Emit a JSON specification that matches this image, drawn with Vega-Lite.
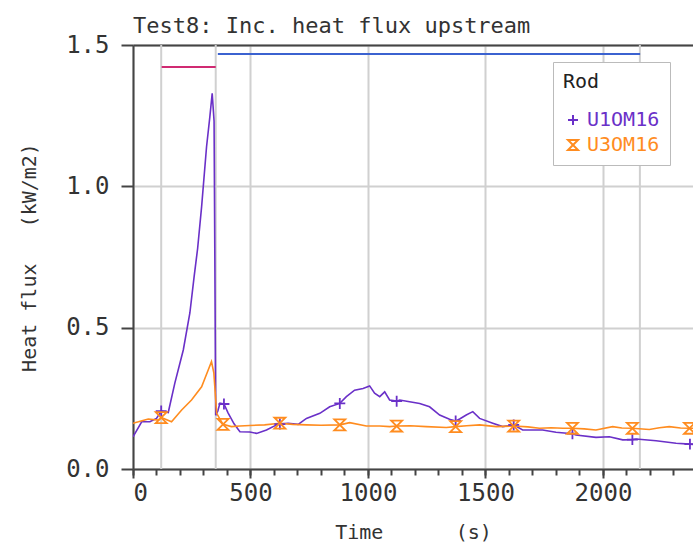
{
  "$schema": "https://vega.github.io/schema/vega-lite/v6.json",
  "width": 560,
  "height": 424,
  "autosize": "none",
  "padding": {"left": 133, "top": 45, "right": 0, "bottom": 76},
  "background": "white",
  "title": {"text": "Test8: Inc. heat flux upstream", "anchor": "start", "frame": "group", "baseline": "alphabetic", "font": "DejaVu Sans Mono", "fontSize": 22, "fontWeight": "normal", "color": "#333", "offset": 12, "dy": 34},
  "config": {
    "font": "DejaVu Sans Mono",
    "view": {"stroke": null},
    "axis": {"labelFont": "DejaVu Sans Mono", "titleFont": "DejaVu Sans Mono", "domainColor": "#444", "tickColor": "#444", "labelColor": "#333", "titleColor": "#333", "gridColor": "#d0d0d0", "gridWidth": 2, "domainWidth": 2, "tickWidth": 2, "titleFontWeight": "normal"},
    "legend": {"labelFont": "DejaVu Sans Mono", "titleFont": "DejaVu Sans Mono"}
  },
  "datasets": {
    "events": [{"t": 120}, {"t": 352}, {"t": 2157}],
    "phases": [
      {"phase": "A", "t0": 122, "t1": 352, "v": 1.422},
      {"phase": "B", "t0": 361, "t1": 2158, "v": 1.468}
    ],
    "series": [
      {"rod": "U1OM16", "t": 0, "v": 0.114, "mk": 0},
      {"rod": "U1OM16", "t": 37, "v": 0.167, "mk": 0},
      {"rod": "U1OM16", "t": 72, "v": 0.167, "mk": 0},
      {"rod": "U1OM16", "t": 100, "v": 0.179, "mk": 0},
      {"rod": "U1OM16", "t": 120, "v": 0.205, "mk": 1},
      {"rod": "U1OM16", "t": 150, "v": 0.2, "mk": 0},
      {"rod": "U1OM16", "t": 178, "v": 0.304, "mk": 0},
      {"rod": "U1OM16", "t": 214, "v": 0.421, "mk": 0},
      {"rod": "U1OM16", "t": 242, "v": 0.552, "mk": 0},
      {"rod": "U1OM16", "t": 260, "v": 0.68, "mk": 0},
      {"rod": "U1OM16", "t": 275, "v": 0.78, "mk": 0},
      {"rod": "U1OM16", "t": 292, "v": 0.928, "mk": 0},
      {"rod": "U1OM16", "t": 313, "v": 1.14, "mk": 0},
      {"rod": "U1OM16", "t": 327, "v": 1.246, "mk": 0},
      {"rod": "U1OM16", "t": 337, "v": 1.329, "mk": 0},
      {"rod": "U1OM16", "t": 345, "v": 1.23, "mk": 0},
      {"rod": "U1OM16", "t": 352, "v": 0.19, "mk": 0},
      {"rod": "U1OM16", "t": 361, "v": 0.205, "mk": 0},
      {"rod": "U1OM16", "t": 370, "v": 0.233, "mk": 0},
      {"rod": "U1OM16", "t": 387, "v": 0.23, "mk": 1},
      {"rod": "U1OM16", "t": 405, "v": 0.198, "mk": 0},
      {"rod": "U1OM16", "t": 430, "v": 0.16, "mk": 0},
      {"rod": "U1OM16", "t": 455, "v": 0.132, "mk": 0},
      {"rod": "U1OM16", "t": 497, "v": 0.131, "mk": 0},
      {"rod": "U1OM16", "t": 526, "v": 0.126, "mk": 0},
      {"rod": "U1OM16", "t": 568, "v": 0.138, "mk": 0},
      {"rod": "U1OM16", "t": 611, "v": 0.156, "mk": 0},
      {"rod": "U1OM16", "t": 625, "v": 0.159, "mk": 1},
      {"rod": "U1OM16", "t": 660, "v": 0.162, "mk": 0},
      {"rod": "U1OM16", "t": 703, "v": 0.158, "mk": 0},
      {"rod": "U1OM16", "t": 738, "v": 0.179, "mk": 0},
      {"rod": "U1OM16", "t": 795, "v": 0.197, "mk": 0},
      {"rod": "U1OM16", "t": 837, "v": 0.22, "mk": 0},
      {"rod": "U1OM16", "t": 880, "v": 0.232, "mk": 1},
      {"rod": "U1OM16", "t": 908, "v": 0.256, "mk": 0},
      {"rod": "U1OM16", "t": 943, "v": 0.279, "mk": 0},
      {"rod": "U1OM16", "t": 979, "v": 0.285, "mk": 0},
      {"rod": "U1OM16", "t": 1007, "v": 0.294, "mk": 0},
      {"rod": "U1OM16", "t": 1028, "v": 0.268, "mk": 0},
      {"rod": "U1OM16", "t": 1050, "v": 0.256, "mk": 0},
      {"rod": "U1OM16", "t": 1071, "v": 0.273, "mk": 0},
      {"rod": "U1OM16", "t": 1092, "v": 0.244, "mk": 0},
      {"rod": "U1OM16", "t": 1122, "v": 0.24, "mk": 1},
      {"rod": "U1OM16", "t": 1135, "v": 0.244, "mk": 0},
      {"rod": "U1OM16", "t": 1177, "v": 0.238, "mk": 0},
      {"rod": "U1OM16", "t": 1220, "v": 0.232, "mk": 0},
      {"rod": "U1OM16", "t": 1262, "v": 0.22, "mk": 0},
      {"rod": "U1OM16", "t": 1305, "v": 0.191, "mk": 0},
      {"rod": "U1OM16", "t": 1347, "v": 0.176, "mk": 0},
      {"rod": "U1OM16", "t": 1373, "v": 0.17, "mk": 1},
      {"rod": "U1OM16", "t": 1390, "v": 0.177, "mk": 0},
      {"rod": "U1OM16", "t": 1418, "v": 0.191, "mk": 0},
      {"rod": "U1OM16", "t": 1446, "v": 0.203, "mk": 0},
      {"rod": "U1OM16", "t": 1475, "v": 0.179, "mk": 0},
      {"rod": "U1OM16", "t": 1531, "v": 0.162, "mk": 0},
      {"rod": "U1OM16", "t": 1573, "v": 0.15, "mk": 0},
      {"rod": "U1OM16", "t": 1620, "v": 0.156, "mk": 1},
      {"rod": "U1OM16", "t": 1658, "v": 0.138, "mk": 0},
      {"rod": "U1OM16", "t": 1743, "v": 0.138, "mk": 0},
      {"rod": "U1OM16", "t": 1800, "v": 0.13, "mk": 0},
      {"rod": "U1OM16", "t": 1870, "v": 0.125, "mk": 1},
      {"rod": "U1OM16", "t": 1885, "v": 0.12, "mk": 0},
      {"rod": "U1OM16", "t": 1970, "v": 0.112, "mk": 0},
      {"rod": "U1OM16", "t": 2027, "v": 0.114, "mk": 0},
      {"rod": "U1OM16", "t": 2084, "v": 0.103, "mk": 0},
      {"rod": "U1OM16", "t": 2125, "v": 0.104, "mk": 1},
      {"rod": "U1OM16", "t": 2141, "v": 0.106, "mk": 0},
      {"rod": "U1OM16", "t": 2226, "v": 0.1, "mk": 0},
      {"rod": "U1OM16", "t": 2311, "v": 0.091, "mk": 0},
      {"rod": "U1OM16", "t": 2370, "v": 0.088, "mk": 1},
      {"rod": "U1OM16", "t": 2383, "v": 0.087, "mk": 0},
      {"rod": "U3OM16", "t": 0, "v": 0.162, "mk": 0},
      {"rod": "U3OM16", "t": 23, "v": 0.167, "mk": 0},
      {"rod": "U3OM16", "t": 65, "v": 0.177, "mk": 0},
      {"rod": "U3OM16", "t": 108, "v": 0.173, "mk": 0},
      {"rod": "U3OM16", "t": 120, "v": 0.182, "mk": 1},
      {"rod": "U3OM16", "t": 164, "v": 0.167, "mk": 0},
      {"rod": "U3OM16", "t": 207, "v": 0.209, "mk": 0},
      {"rod": "U3OM16", "t": 249, "v": 0.244, "mk": 0},
      {"rod": "U3OM16", "t": 292, "v": 0.291, "mk": 0},
      {"rod": "U3OM16", "t": 320, "v": 0.35, "mk": 0},
      {"rod": "U3OM16", "t": 334, "v": 0.38, "mk": 0},
      {"rod": "U3OM16", "t": 344, "v": 0.34, "mk": 0},
      {"rod": "U3OM16", "t": 356, "v": 0.197, "mk": 0},
      {"rod": "U3OM16", "t": 383, "v": 0.158, "mk": 1},
      {"rod": "U3OM16", "t": 419, "v": 0.15, "mk": 0},
      {"rod": "U3OM16", "t": 455, "v": 0.152, "mk": 0},
      {"rod": "U3OM16", "t": 497, "v": 0.154, "mk": 0},
      {"rod": "U3OM16", "t": 560, "v": 0.156, "mk": 0},
      {"rod": "U3OM16", "t": 625, "v": 0.162, "mk": 1},
      {"rod": "U3OM16", "t": 680, "v": 0.158, "mk": 0},
      {"rod": "U3OM16", "t": 738, "v": 0.156, "mk": 0},
      {"rod": "U3OM16", "t": 800, "v": 0.155, "mk": 0},
      {"rod": "U3OM16", "t": 880, "v": 0.156, "mk": 1},
      {"rod": "U3OM16", "t": 922, "v": 0.164, "mk": 0},
      {"rod": "U3OM16", "t": 993, "v": 0.152, "mk": 0},
      {"rod": "U3OM16", "t": 1050, "v": 0.152, "mk": 0},
      {"rod": "U3OM16", "t": 1092, "v": 0.15, "mk": 0},
      {"rod": "U3OM16", "t": 1122, "v": 0.152, "mk": 1},
      {"rod": "U3OM16", "t": 1180, "v": 0.153, "mk": 0},
      {"rod": "U3OM16", "t": 1248, "v": 0.15, "mk": 0},
      {"rod": "U3OM16", "t": 1333, "v": 0.147, "mk": 0},
      {"rod": "U3OM16", "t": 1373, "v": 0.15, "mk": 1},
      {"rod": "U3OM16", "t": 1420, "v": 0.153, "mk": 0},
      {"rod": "U3OM16", "t": 1475, "v": 0.156, "mk": 0},
      {"rod": "U3OM16", "t": 1546, "v": 0.15, "mk": 0},
      {"rod": "U3OM16", "t": 1620, "v": 0.152, "mk": 1},
      {"rod": "U3OM16", "t": 1680, "v": 0.149, "mk": 0},
      {"rod": "U3OM16", "t": 1730, "v": 0.144, "mk": 0},
      {"rod": "U3OM16", "t": 1780, "v": 0.146, "mk": 0},
      {"rod": "U3OM16", "t": 1829, "v": 0.144, "mk": 0},
      {"rod": "U3OM16", "t": 1870, "v": 0.144, "mk": 1},
      {"rod": "U3OM16", "t": 1920, "v": 0.142, "mk": 0},
      {"rod": "U3OM16", "t": 1970, "v": 0.138, "mk": 0},
      {"rod": "U3OM16", "t": 2041, "v": 0.15, "mk": 0},
      {"rod": "U3OM16", "t": 2080, "v": 0.145, "mk": 0},
      {"rod": "U3OM16", "t": 2125, "v": 0.144, "mk": 1},
      {"rod": "U3OM16", "t": 2197, "v": 0.14, "mk": 0},
      {"rod": "U3OM16", "t": 2240, "v": 0.146, "mk": 0},
      {"rod": "U3OM16", "t": 2282, "v": 0.15, "mk": 0},
      {"rod": "U3OM16", "t": 2330, "v": 0.145, "mk": 0},
      {"rod": "U3OM16", "t": 2368, "v": 0.144, "mk": 1},
      {"rod": "U3OM16", "t": 2383, "v": 0.144, "mk": 0}
    ]
  },
  "layer": [
    {
      "data": {"name": "events"},
      "mark": {"type": "rule", "color": "#d0d0d0", "strokeWidth": 2},
      "encoding": {
        "x": {"field": "t", "type": "quantitative", "scale": {"domain": [0, 2383], "nice": false, "zero": false},
          "axis": {"orient": "top", "labels": false, "ticks": false, "grid": false, "domain": true, "title": null}}
      }
    },
    {
      "data": {"name": "phases"},
      "mark": {"type": "rule", "strokeWidth": 2},
      "encoding": {
        "x": {"field": "t0", "type": "quantitative", "axis": null},
        "x2": {"field": "t1"},
        "y": {"field": "v", "type": "quantitative", "axis": null},
        "stroke": {"field": "phase", "type": "nominal", "scale": {"domain": ["A", "B"], "range": ["#d02a72", "#3b62d0"]}, "legend": null}
      }
    },
    {
      "data": {"name": "series"},
      "mark": {"type": "line", "strokeWidth": 1.6, "clip": true},
      "encoding": {
        "x": {"field": "t", "type": "quantitative",
          "axis": {"values": [0, 500, 1000, 1500, 2000], "format": "d", "grid": true, "tickSize": 9, "labelFontSize": 24, "labelPadding": 3, "title": "Time\u00a0\u00a0\u00a0\u00a0\u00a0\u00a0(s)", "titleFontSize": 20, "titlePadding": 17}},
        "y": {"field": "v", "type": "quantitative", "scale": {"domain": [0, 1.5], "nice": false},
          "axis": {"values": [0, 0.5, 1, 1.5], "format": ".1f", "grid": true, "tickSize": 12, "labelFontSize": 24, "labelPadding": 12, "title": "Heat flux\u00a0\u00a0\u00a0(kW/m2)", "titleFontSize": 20, "titlePadding": 26}},
        "color": {"field": "rod", "type": "nominal", "scale": {"domain": ["U1OM16", "U3OM16"], "range": ["#6a30c8", "#ff8c1f"]}, "title": "Rod"}
      }
    },
    {
      "data": {"name": "series"},
      "transform": [{"filter": "datum.mk == 1"}],
      "mark": {"type": "point", "filled": false, "strokeWidth": 1.8, "size": 120, "opacity": 1, "clip": true},
      "encoding": {
        "x": {"field": "t", "type": "quantitative",
          "axis": {"values": [0, 100, 200, 300, 400, 500, 600, 700, 800, 900, 1000, 1100, 1200, 1300, 1400, 1500, 1600, 1700, 1800, 1900, 2000, 2100, 2200, 2300], "labels": false, "tickSize": 6, "grid": false, "domain": false, "title": null}},
        "y": {"field": "v", "type": "quantitative",
          "axis": {"values": [0, 0.1, 0.2, 0.3, 0.4, 0.5, 0.6, 0.7, 0.8, 0.9, 1, 1.1, 1.2, 1.3, 1.4, 1.5], "labels": false, "tickSize": 7, "grid": false, "domain": false, "title": null}},
        "color": {"field": "rod", "type": "nominal", "title": "Rod",
          "legend": {"orient": "none", "legendX": 420, "legendY": 17, "fillColor": "white", "strokeColor": "#bbbbbb", "padding": 10, "titleFontSize": 20, "titleFontWeight": "normal", "titleColor": "#222", "titlePadding": 18, "labelFontSize": 20, "symbolStrokeWidth": 2, "symbolSize": 100, "rowPadding": 5,
            "labelColor": {"expr": "datum.value === 'U1OM16' ? '#6a30c8' : '#ff8c1f'"}}},
        "shape": {"field": "rod", "type": "nominal", "title": "Rod",
          "scale": {"domain": ["U1OM16", "U3OM16"], "range": ["M-1,0L1,0M0,-1L0,1", "M-1,-1L1,-1L-1,1L1,1Z"]}}
      }
    }
  ],
  "resolve": {"axis": {"x": "independent", "y": "independent"}}
}
